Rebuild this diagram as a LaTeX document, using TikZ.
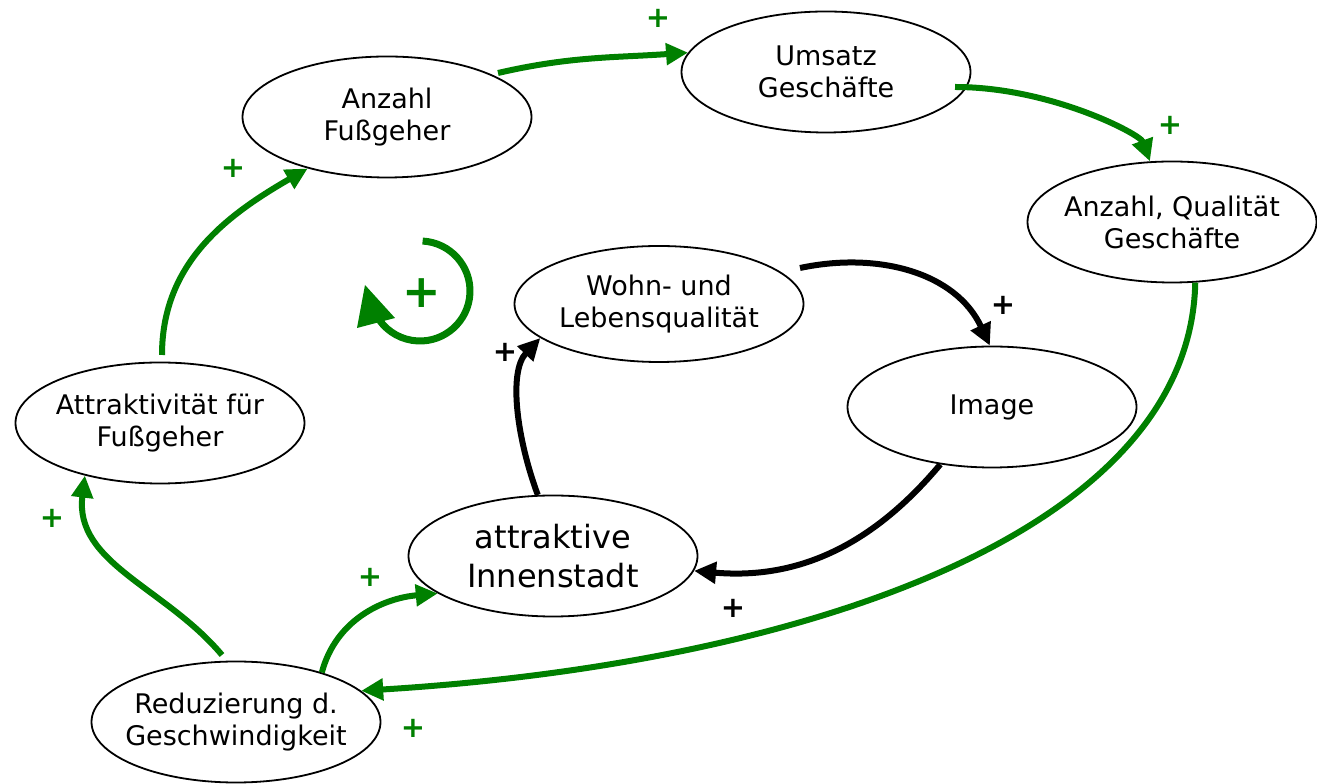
\documentclass[tikz,border=0pt]{standalone}
\usepackage{fontspec}
\setmainfont{DejaVu Sans}
\usetikzlibrary{arrows.meta,shapes.geometric,calc}
\definecolor{mygreen}{RGB}{0,128,0}
\begin{document}
\begin{tikzpicture}[x=1pt,y=1pt,
 ell/.style={draw, line width=1.8pt, ellipse, minimum width=289pt, minimum height=121pt, inner sep=-30pt, align=center, font=\fontsize{27}{32}\selectfont},
 garr/.style={draw=mygreen, line width=6pt, -{Triangle[length=22pt,width=21pt]}},
 barr/.style={draw=black, line width=6pt, -{Triangle[length=22pt,width=21pt]}},
 gplus/.style={text=mygreen, font=\bfseries\fontsize{29}{29}\selectfont, inner sep=0pt},
 bplus/.style={text=black, font=\bfseries\fontsize{29}{29}\selectfont, inner sep=0pt}]
\useasboundingbox (0,0) rectangle (1317,784);

\node[ell] (fuss) at (387,667) {Anzahl\\Fußgeher};
\node[ell] (umsatz) at (826,712) {Umsatz\\Geschäfte};
\node[ell] (qual) at (1172,562) {Anzahl, Qualität\\Geschäfte};
\node[ell, minimum height=116pt] (wohn) at (659,480) {Wohn- und\\Lebensqualität};
\node[ell] (image) at (992,377) {Image};
\node[ell] (attr) at (160,361) {Attraktivität für\\Fußgeher};
\node[ell, font=\fontsize{32}{39}\selectfont] (innen) at (553,228) {attraktive\\Innenstadt};
\node[ell] (red) at (236,62) {Reduzierung d.\\Geschwindigkeit};

% green loop
\draw[garr] ($(fuss.center)+(111,44)$) to[out=13,in=184] (umsatz.172);
\draw[garr] ($(umsatz.center)+(129,-15)$) .. controls (1050,697) and (1140,650) .. (qual.110);
\draw[garr] (qual.-69) .. controls (1190,250) and (800,120) .. (red.14);
\draw[garr] ($(red.center)+(-14,67)$) to[out=130,in=-97] (attr.-145);
\draw[garr] ($(attr.center)+(2,68)$) to[out=90,in=210] (fuss.-147);
\draw[garr] (red.30) to[out=75,in=185] (innen.-162);

% black loop
\draw[barr] (innen.104) .. controls (517,345) and (508,412) .. (wohn.-164);
\draw[barr] ($(wohn.center)+(141,36)$) to[out=12,in=115] (image.92);
\draw[barr] (image.-132) to[out=-130,in=-5] (innen.-6);

% plus labels
\node[gplus] (p1) at (658,766) {+};
\node[gplus] (p2) at (1170,659) {+};
\node[gplus] (p3) at (413,56) {+};
\node[gplus] (p4) at (52,266) {+};
\node[gplus] (p5) at (233,616) {+};
\node[gplus] (p6) at (370,207) {+};
\node[bplus] (p7) at (505,432) {+};
\node[bplus] (p8) at (1003,479) {+};
\node[bplus] (p9) at (733,176) {+};

% loop symbol
\coordinate (lc) at (420,493);
\draw[mygreen, line width=7pt] (lc) ++(87:50) arc[start angle=87, end angle=-144, radius=50];
\fill[mygreen] (365,499) -- (357,456) -- (395,466) -- cycle;
\node[text=mygreen, font=\bfseries\fontsize{46}{46}\selectfont, inner sep=0pt] (pc) at (422,491) {+};
\end{tikzpicture}
\end{document}
